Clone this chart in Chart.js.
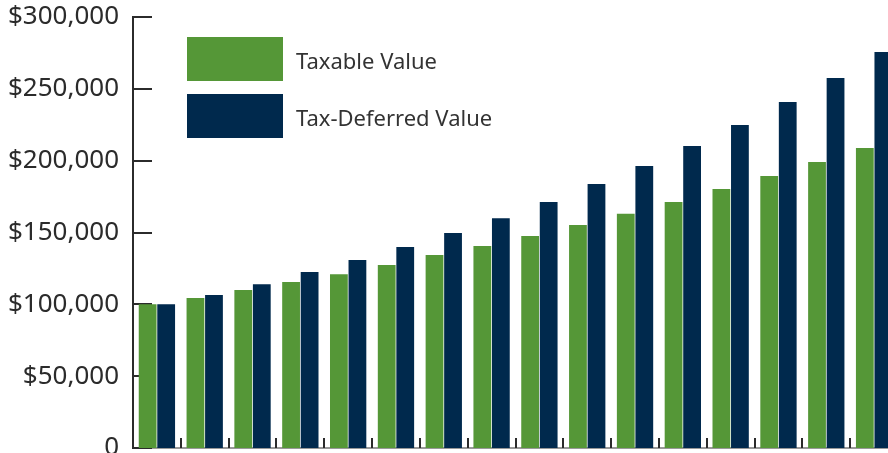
<!DOCTYPE html>
<html>
<head>
<meta charset="utf-8">
<script src="https://cdn.jsdelivr.net/npm/chart.js@4"></script>
<style>
html, body { margin: 0; padding: 0; overflow: hidden; background: #fff; }
canvas { display: block; }
</style>
</head>
<body>
<canvas id="growthChart" width="898" height="453"></canvas>
<script>
// Data
const years = ["1","2","3","4","5","6","7","8","9","10","11","12","13","14","15","16"];
const taxableValue = [100000,104400,110000,115500,121000,127400,134300,140600,147600,155200,163000,171200,180300,189300,199000,208800];
const taxDeferredValue = [100000,106500,114000,122500,130800,139900,149600,160000,171200,183700,196300,210200,224800,240800,257500,275600];
const yTicks = [0,50000,100000,150000,200000,250000,300000];

const green = "#559737";
const navy = "#00294d";
const ink = "#2b2b2b";

// tick marks drawn inward + legend boxes
const axisMarks = {
    id: "axisMarks",
    beforeDatasetsDraw(chart) {
        const { ctx, chartArea: a, scales: { x, y } } = chart;
        ctx.save();
        ctx.strokeStyle = "#777";
        ctx.lineWidth = 1.5;
        ctx.beginPath();
        ctx.moveTo(a.left, a.bottom);
        ctx.lineTo(a.right, a.bottom);
        ctx.stroke();

        ctx.strokeStyle = ink;
        ctx.lineWidth = 2;
        y.ticks.forEach(t => {
            const py = Math.round(y.getPixelForValue(t.value));
            ctx.beginPath();
            ctx.moveTo(a.left, py);
            ctx.lineTo(a.left + 19, py);
            ctx.stroke();
        });
        for (let i = 1; i < years.length; i++) {
            const px = Math.round((x.getPixelForTick(i - 1) + x.getPixelForTick(i)) / 2);
            ctx.beginPath();
            ctx.moveTo(px, a.bottom);
            ctx.lineTo(px, a.bottom - 10);
            ctx.stroke();
        }
        ctx.restore();
    },
    afterDatasetsDraw(chart) {
        const { ctx } = chart;
        ctx.save();
        ctx.font = "22px 'Noto Sans'";
        ctx.textBaseline = "alphabetic";
        chart.data.datasets.forEach((ds, i) => {
            const top = 37 + i * 57;
            ctx.fillStyle = ds.backgroundColor;
            ctx.fillRect(187, top, 96, 44);
            ctx.fillStyle = "#333";
            ctx.fillText(ds.label, 296, top + 32);
        });
        ctx.restore();
    }
};

new Chart(document.getElementById("growthChart"), {
    type: "bar",
    data: {
        labels: years,
        datasets: [{
            label: "Taxable Value",
            data: taxableValue,
            backgroundColor: green,
            barPercentage: 0.96,
            categoryPercentage: 0.775
        }, {
            label: "Tax-Deferred Value",
            data: taxDeferredValue,
            backgroundColor: navy,
            barPercentage: 0.96,
            categoryPercentage: 0.775
        }]
    },
    options: {
        responsive: false,
        animation: false,
        devicePixelRatio: 1,
        layout: { padding: { top: 17, bottom: 5, left: 0, right: 0 } },
        plugins: {
            legend: { display: false },
            tooltip: { enabled: false }
        },
        scales: {
            x: { display: false },
            y: {
                min: 0,
                max: 300000,
                afterBuildTicks: s => { s.ticks = yTicks.map(v => ({ value: v })); },
                afterFit: s => { s.width = 133; s.paddingTop = 0; s.paddingBottom = 0; },
                grid: { display: false, drawTicks: false },
                border: { display: true, color: ink, width: 2 },
                ticks: {
                    padding: 14,
                    color: ink,
                    font: { family: "'Noto Sans'", size: 26 },
                    callback: v => v === 0 ? "0" : "$" + v.toLocaleString("en-US")
                }
            }
        }
    },
    plugins: [axisMarks]
});
</script>
</body>
</html>
